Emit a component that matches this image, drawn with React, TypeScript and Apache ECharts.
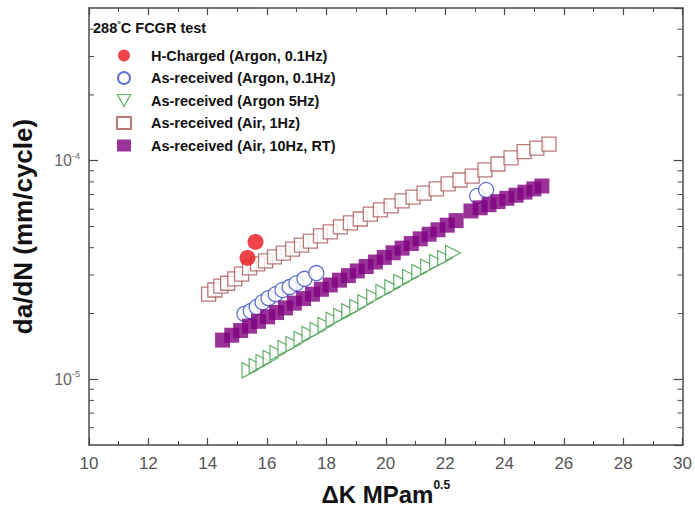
import React, { useEffect, useRef } from 'react';
import * as echarts from 'echarts';

// ---- data (ΔK in MPa·m^0.5, da/dN in mm/cycle) ----
const hChargedK = [15.34, 15.61];
const hChargedRate = [3.59e-5, 4.25e-5];

const argon01K = [15.24, 15.45, 15.65, 15.85, 16.05, 16.29, 16.52, 16.76, 16.99, 17.26, 17.66, 23.08, 23.38];
const argon01Rate = [1.99e-5, 2.05e-5, 2.14e-5, 2.25e-5, 2.35e-5, 2.45e-5, 2.56e-5, 2.64e-5, 2.75e-5, 2.88e-5, 3.06e-5, 6.9e-5, 7.35e-5];

const argon5K = [15.41, 15.65, 15.88, 16.12, 16.35, 16.62, 16.89, 17.16, 17.43, 17.7, 17.97, 18.24, 18.5, 18.77, 19.04, 19.31, 19.61, 19.92, 20.22, 20.52, 20.82, 21.13, 21.43, 21.73, 22.0, 22.27];
const argon5Rate = [1.1e-5, 1.15e-5, 1.2e-5, 1.25e-5, 1.32e-5, 1.39e-5, 1.45e-5, 1.53e-5, 1.61e-5, 1.68e-5, 1.77e-5, 1.87e-5, 1.95e-5, 2.05e-5, 2.14e-5, 2.25e-5, 2.38e-5, 2.51e-5, 2.64e-5, 2.79e-5, 2.94e-5, 3.1e-5, 3.27e-5, 3.44e-5, 3.59e-5, 3.78e-5];

const air1K = [14.03, 14.24, 14.44, 14.67, 14.91, 15.14, 15.41, 15.68, 15.95, 16.25, 16.55, 16.86, 17.16, 17.46, 17.8, 18.13, 18.47, 18.81, 19.14, 19.48, 19.82, 20.18, 20.55, 20.92, 21.29, 21.7, 22.1, 22.5, 22.91, 23.34, 23.78, 24.22, 24.66, 25.09, 25.5];
const air1Rate = [2.45e-5, 2.56e-5, 2.67e-5, 2.75e-5, 2.88e-5, 3.03e-5, 3.23e-5, 3.37e-5, 3.48e-5, 3.63e-5, 3.78e-5, 3.94e-5, 4.11e-5, 4.29e-5, 4.53e-5, 4.72e-5, 4.98e-5, 5.19e-5, 5.41e-5, 5.7e-5, 5.96e-5, 6.21e-5, 6.55e-5, 6.82e-5, 7.11e-5, 7.43e-5, 7.83e-5, 8.16e-5, 8.51e-5, 9.08e-5, 9.66e-5, 1.03e-4, 1.1e-4, 1.143e-4, 1.19e-4];

const air10K = [14.5, 14.81, 15.11, 15.41, 15.71, 16.02, 16.32, 16.62, 16.92, 17.23, 17.53, 17.83, 18.13, 18.44, 18.74, 19.04, 19.34, 19.65, 19.95, 20.25, 20.55, 20.86, 21.16, 21.46, 21.76, 22.07, 22.37, 22.87, 23.18, 23.48, 23.78, 24.08, 24.39, 24.69, 24.99, 25.26];
const air10Rate = [1.51e-5, 1.59e-5, 1.67e-5, 1.75e-5, 1.84e-5, 1.93e-5, 2.02e-5, 2.12e-5, 2.23e-5, 2.34e-5, 2.45e-5, 2.58e-5, 2.7e-5, 2.84e-5, 2.98e-5, 3.13e-5, 3.28e-5, 3.44e-5, 3.61e-5, 3.79e-5, 3.98e-5, 4.18e-5, 4.39e-5, 4.61e-5, 4.83e-5, 5.07e-5, 5.32e-5, 5.89e-5, 6.09e-5, 6.29e-5, 6.5e-5, 6.73e-5, 6.95e-5, 7.18e-5, 7.43e-5, 7.66e-5];

const seriesNames = [
  'H-Charged (Argon, 0.1Hz)',
  'As-received (Argon, 0.1Hz)',
  'As-received (Argon 5Hz)',
  'As-received (Air, 1Hz)',
  'As-received (Air, 10Hz, RT)',
];

const xMin = 10;
const xMax = 30;
const xInterval = 2;
const yMin = 5e-6;
const yMax = 5e-4;
const yMinorTicks = [6e-6, 7e-6, 8e-6, 9e-6, 2e-5, 3e-5, 4e-5, 5e-5, 6e-5, 7e-5, 8e-5, 9e-5, 2e-4, 3e-4, 4e-4];

const FONT = '"Liberation Sans", Arial, sans-serif';
const AXIS = '#4a4a4a';
const C_RED = '#e8141c';
const C_BLUE = '#3a52c4';
const C_GREEN = '#3c9a46';
const C_BROWN = '#a85858';
const C_PURPLE = '#800080';

const zip = (xs: number[], ys: number[]) => xs.map((x, i) => [x, ys[i]]);

export default function App() {
  const ref = useRef<HTMLDivElement>(null);
  useEffect(() => {
    if (!ref.current) return;
    const chart = echarts.init(ref.current, undefined, { renderer: 'svg' });
    const yLabel = (v: number) => {
      const e = Math.round(Math.log10(v));
      if (Math.abs(v - Math.pow(10, e)) / v > 1e-6) return '';
      return `{b|10}{s|${e}}`;
    };
    const option: any = {
      animation: false,
      backgroundColor: '#fff',
      textStyle: { fontFamily: FONT },
      title: {
        text: '288{s|°}C FCGR test',
        left: 88,
        top: 14,
        textStyle: {
          fontFamily: FONT,
          fontSize: 14.5,
          fontWeight: 'bold',
          color: '#111',
          rich: {
            s: { fontSize: 9, fontWeight: 'bold', color: '#111', padding: [0, 0, 8, 0] },
          },
        },
      },
      legend: {
        orient: 'vertical',
        left: 111,
        top: 43,
        itemWidth: 14,
        itemHeight: 12,
        itemGap: 7.5,
        data: [
          { name: seriesNames[0] },
          { name: seriesNames[1] },
          {
            name: seriesNames[2],
            icon: 'path://M0,0 L12,0 L6,11 Z',
            itemStyle: { color: '#fff', borderColor: C_GREEN, borderWidth: 1.2 },
          },
          { name: seriesNames[3] },
          { name: seriesNames[4] },
        ],
        textStyle: {
          fontFamily: FONT,
          fontSize: 14.5,
          fontWeight: 'bold',
          color: '#111',
          lineHeight: 14,
          padding: [0, 0, 0, 15],
        },
      },
      grid: { left: 89, right: 12, top: 8, bottom: 77, show: false },
      xAxis: [
        {
          type: 'value',
          min: xMin,
          max: xMax,
          interval: xInterval,
          position: 'bottom',
          name: '{a|ΔK MPam}{s|0.5}',
          nameLocation: 'middle',
          nameGap: 34,
          nameTextStyle: {
            rich: {
              a: { fontFamily: FONT, fontSize: 24, fontWeight: 'bold', color: '#111' },
              s: { fontFamily: FONT, fontSize: 12, fontWeight: 'bold', color: '#111', padding: [0, 0, 18, 0] },
            },
          },
          axisLine: { show: true, lineStyle: { color: AXIS, width: 1.5 } },
          axisTick: { show: true, inside: true, length: 7, lineStyle: { color: AXIS, width: 1.2 } },
          minorTick: { show: true, splitNumber: 2, length: 4, lineStyle: { color: AXIS, width: 1 } },
          axisLabel: { fontFamily: FONT, fontSize: 17, color: '#555', margin: 10 },
          splitLine: { show: false },
        },
        {
          type: 'value',
          min: xMin,
          max: xMax,
          interval: xInterval,
          position: 'top',
          axisLine: { show: true, lineStyle: { color: AXIS, width: 1.5 } },
          axisTick: { show: true, inside: true, length: 7, lineStyle: { color: AXIS, width: 1.2 } },
          minorTick: { show: true, splitNumber: 2, length: 4, lineStyle: { color: AXIS, width: 1 } },
          axisLabel: { show: false },
          splitLine: { show: false },
        },
      ],
      yAxis: [
        {
          type: 'log',
          logBase: 10,
          min: yMin,
          max: yMax,
          position: 'left',
          name: 'da/dN (mm/cycle)',
          nameLocation: 'middle',
          nameGap: 53,
          nameTextStyle: { fontFamily: FONT, fontSize: 26, fontWeight: 'bold', color: '#111' },
          axisLine: { show: true, lineStyle: { color: AXIS, width: 1.5 } },
          axisTick: { show: true, inside: true, length: 9, lineStyle: { color: AXIS, width: 1.2 } },
          axisLabel: {
            showMinLabel: false,
            showMaxLabel: false,
            margin: 9,
            formatter: yLabel,
            rich: {
              b: { fontFamily: FONT, fontSize: 16, color: '#666' },
              s: { fontFamily: FONT, fontSize: 9, color: '#666', padding: [0, 0, 10, 0] },
            },
          },
          splitLine: { show: false },
        },
        {
          type: 'log',
          logBase: 10,
          min: yMin,
          max: yMax,
          position: 'right',
          axisLine: { show: true, lineStyle: { color: AXIS, width: 1.5 } },
          axisTick: { show: true, inside: true, length: 9, lineStyle: { color: AXIS, width: 1.2 } },
          axisLabel: { show: false },
          splitLine: { show: false },
        },
      ],
      series: [
        {
          type: 'custom',
          name: 'minorTicks',
          silent: true,
          z: 1,
          data: yMinorTicks.map((v) => [xMin, v]),
          renderItem: (params: any, api: any) => {
            const y = api.coord([xMin, api.value(1)])[1];
            const cs = params.coordSys;
            const st = { stroke: AXIS, lineWidth: 1 };
            return {
              type: 'group',
              children: [
                { type: 'line', shape: { x1: cs.x, y1: y, x2: cs.x + 5, y2: y }, style: st },
                { type: 'line', shape: { x1: cs.x + cs.width - 5, y1: y, x2: cs.x + cs.width, y2: y }, style: st },
              ],
            };
          },
        },
        {
          type: 'scatter',
          name: seriesNames[3],
          z: 2,
          symbol: 'rect',
          symbolSize: 14,
          itemStyle: { color: '#fff', borderColor: C_BROWN, borderWidth: 1.3 },
          data: zip(air1K, air1Rate),
        },
        {
          type: 'scatter',
          name: seriesNames[1],
          z: 3,
          symbol: 'circle',
          symbolSize: 15,
          itemStyle: { color: '#fff', borderColor: C_BLUE, borderWidth: 1.3 },
          data: zip(argon01K, argon01Rate),
        },
        {
          type: 'scatter',
          name: seriesNames[2],
          z: 3,
          symbol: 'triangle',
          symbolRotate: -90,
          symbolSize: 15,
          itemStyle: { color: '#fff', borderColor: C_GREEN, borderWidth: 1.2 },
          data: zip(argon5K, argon5Rate),
        },
        {
          type: 'scatter',
          name: seriesNames[4],
          z: 4,
          symbol: 'rect',
          symbolSize: 15,
          itemStyle: { color: C_PURPLE },
          data: zip(air10K, air10Rate),
        },
        {
          type: 'scatter',
          name: seriesNames[0],
          z: 5,
          symbol: 'circle',
          symbolSize: 16,
          itemStyle: { color: C_RED },
          data: zip(hChargedK, hChargedRate),
        },
      ],
    };
    chart.setOption(option);
    return () => chart.dispose();
  }, []);
  return (
    <div
      ref={ref}
      style={{ position: 'absolute', left: 0, top: 0, width: 695, height: 522, background: '#fff' }}
    />
  );
}
